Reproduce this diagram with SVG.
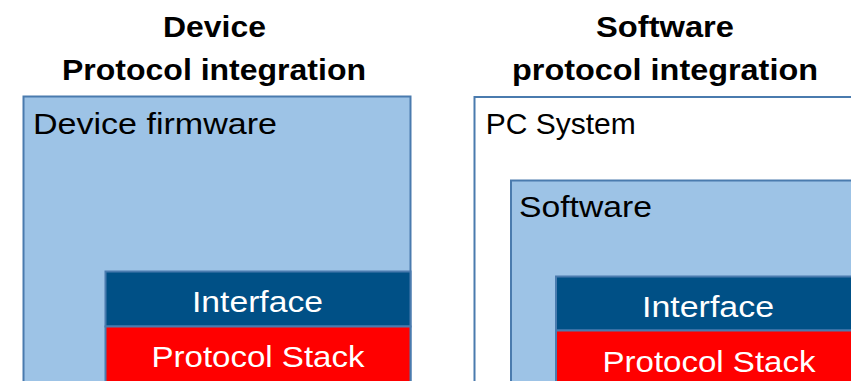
<svg xmlns="http://www.w3.org/2000/svg" width="851" height="381" viewBox="0 0 851 381">
<style>
.title{font-family:"Liberation Sans",Arial,sans-serif;font-weight:bold;font-size:30px;fill:#000;text-anchor:middle}
.lbl{font-family:"Liberation Sans",Arial,sans-serif;font-size:29px;fill:#000}
.wt{font-family:"Liberation Sans",Arial,sans-serif;font-size:30px;fill:#fff;text-anchor:middle}
.light{fill:#9DC3E6;stroke:#4A7BAE;stroke-width:2}
.white{fill:#fff;stroke:#4A7BAE;stroke-width:2}
.iface{fill:#005086;stroke:#4A7BAE;stroke-width:2}
.stack{fill:#FF0000;stroke:#4A7BAE;stroke-width:2}
</style>
<rect width="851" height="381" fill="#fff"/>
<g id="title-left">
<text class="title" x="214.5" y="37" textLength="103" lengthAdjust="spacingAndGlyphs">Device</text>
<text class="title" x="214" y="80" textLength="304" lengthAdjust="spacingAndGlyphs">Protocol integration</text>
</g>
<g id="title-right">
<text class="title" x="665" y="37" textLength="138" lengthAdjust="spacingAndGlyphs">Software</text>
<text class="title" x="665" y="80" textLength="306" lengthAdjust="spacingAndGlyphs">protocol integration</text>
</g>
<g id="device-firmware">
<rect class="light" x="23.5" y="96.5" width="387" height="320"/>
<text class="lbl" x="33" y="134" textLength="244" lengthAdjust="spacingAndGlyphs">Device firmware</text>
</g>
<g id="interface-left">
<rect class="iface" x="105.5" y="271.5" width="305" height="55"/>
<text class="wt" x="257.5" y="311.7" textLength="131" lengthAdjust="spacingAndGlyphs">Interface</text>
</g>
<g id="stack-left">
<rect class="stack" x="105.5" y="326.5" width="305" height="80"/>
<text class="wt" x="258" y="367" textLength="213" lengthAdjust="spacingAndGlyphs">Protocol Stack</text>
</g>
<g id="pc-system">
<rect class="white" x="474.5" y="97" width="420" height="320"/>
<text class="lbl" x="485.7" y="134" textLength="150" lengthAdjust="spacingAndGlyphs">PC System</text>
</g>
<g id="software">
<rect class="light" x="511" y="180.5" width="400" height="250"/>
<text class="lbl" x="519" y="217.3" textLength="133" lengthAdjust="spacingAndGlyphs">Software</text>
</g>
<g id="interface-right">
<rect class="iface" x="556" y="276.5" width="340" height="54"/>
<text class="wt" x="708" y="316.7" textLength="132" lengthAdjust="spacingAndGlyphs">Interface</text>
</g>
<g id="stack-right">
<rect class="stack" x="556" y="330.5" width="340" height="80"/>
<text class="wt" x="709" y="371.7" textLength="213" lengthAdjust="spacingAndGlyphs">Protocol Stack</text>
</g>
<g id="connectors"></g>
</svg>
